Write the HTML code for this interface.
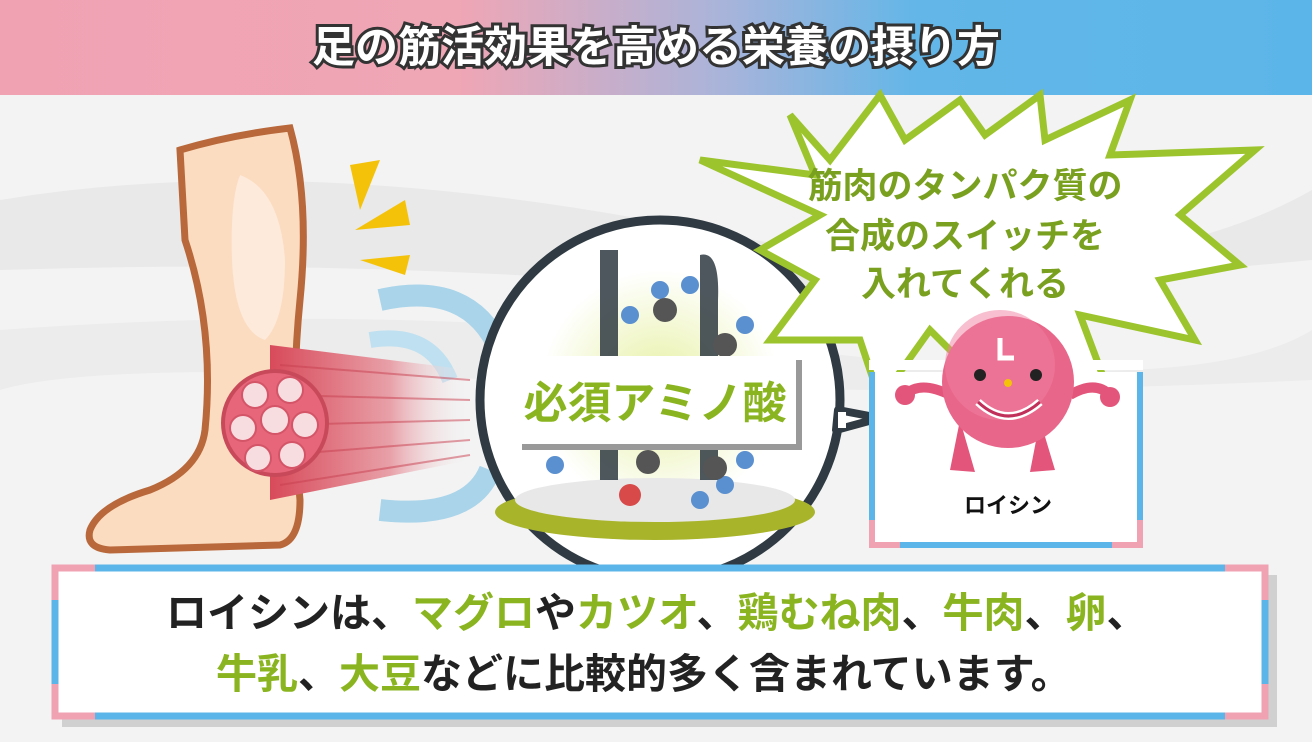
<!DOCTYPE html>
<html><head><meta charset="utf-8"><style>
html,body{margin:0;padding:0;width:1312px;height:742px;overflow:hidden;background:#f4f4f4}
svg text{font-family:"Liberation Sans","Noto Sans CJK JP",sans-serif;font-weight:bold}
</style></head><body>
<svg width="1312" height="742" viewBox="0 0 1312 742" xmlns="http://www.w3.org/2000/svg">
<defs>
<linearGradient id="hd" x1="0" x2="1"><stop offset="0" stop-color="#f0a2b3"/><stop offset="0.35" stop-color="#efa6b5"/><stop offset="0.55" stop-color="#a9b4da"/><stop offset="0.7" stop-color="#62b6e8"/><stop offset="1" stop-color="#5cb5e8"/></linearGradient>
<linearGradient id="mus" x1="0" x2="1"><stop offset="0" stop-color="#d84a5a"/><stop offset="0.6" stop-color="#e8a0a8"/><stop offset="1" stop-color="#f4f4f4" stop-opacity="0"/></linearGradient>
<radialGradient id="glow"><stop offset="0" stop-color="#e6f0a0"/><stop offset="1" stop-color="#ffffff"/></radialGradient>
</defs>
<rect width="1312" height="742" fill="#f3f3f3"/>
<path d="M0 200 Q300 150 700 230 T1312 190 L1312 260 Q900 300 600 280 T0 270Z" fill="#e9e9e9"/>
<path d="M0 330 Q400 300 800 350 T1312 330 L1312 380 Q900 400 500 380 T0 390Z" fill="#ececec"/>
<rect width="1312" height="95" fill="url(#hd)"/>
<text x="656" y="62" text-anchor="middle" font-size="43" fill="#fff" stroke="#333" stroke-width="6" paint-order="stroke">足の筋活効果を高める栄養の摂り方</text>

<!-- leg -->
<path d="M180 150 Q230 135 290 128 Q310 200 300 300 Q290 400 300 500 Q300 540 280 545 L110 550 Q85 548 90 530 Q100 505 150 490 Q200 470 205 430 Q215 330 185 240 Z" fill="#fbdcc0" stroke="#b8683a" stroke-width="7"/>
<path d="M240 175 Q280 190 285 260 Q285 320 265 340 Q235 330 232 260 Q230 200 240 175Z" fill="#fdeadb"/>
<path d="M350 165 L380 160 L360 210Z M355 230 L405 200 L410 225Z M360 260 L410 255 L405 275Z" fill="#f5c20a"/>
<!-- waves -->
<path d="M380 300 Q470 280 500 350" stroke="#a9d4ea" stroke-width="22" fill="none"/>
<path d="M380 510 Q470 520 490 470" stroke="#a9d4ea" stroke-width="22" fill="none"/>
<path d="M370 340 Q430 330 450 380" stroke="#bfe0f0" stroke-width="16" fill="none"/>
<!-- muscle -->
<path d="M270 345 L470 370 L470 460 L270 500Z" fill="url(#mus)"/>
<g stroke="#c84050" stroke-width="2" opacity="0.5"><path d="M280 365 L470 380 M280 395 L470 400 M280 425 L470 420 M280 455 L470 440 M280 485 L470 455"/></g>
<circle cx="275" cy="423" r="52" fill="#e8667a" stroke="#c84a5a" stroke-width="4"/>
<g fill="#f8dde0" stroke="#d45468" stroke-width="2">
<circle cx="255" cy="395" r="13"/><circle cx="290" cy="390" r="13"/><circle cx="243" cy="428" r="13"/><circle cx="275" cy="420" r="14"/><circle cx="305" cy="425" r="13"/><circle cx="258" cy="458" r="13"/><circle cx="292" cy="455" r="13"/>
</g>
<!-- big circle -->
<circle cx="660" cy="400" r="180" fill="#fff"/>
<circle cx="660" cy="390" r="120" fill="url(#glow)"/>
<path d="M838 410 L880 418 L836 430Z" fill="#fff" stroke="#2f3a42" stroke-width="8" stroke-linejoin="round"/>
<circle cx="660" cy="400" r="180" fill="none" stroke="#2f3a42" stroke-width="9"/>
<rect x="838" y="412" width="8" height="16" fill="#fff"/>
<ellipse cx="655" cy="512" rx="160" ry="28" fill="#a8b42a"/>
<ellipse cx="655" cy="500" rx="140" ry="22" fill="#e8e8e8"/>
<rect x="600" y="250" width="18" height="230" fill="#2f3a42" opacity="0.85"/>
<path d="M700 255 Q720 250 718 300 L718 480 L700 480Z" fill="#2f3a42" opacity="0.85"/>
<g fill="#5a8fd0"><circle cx="630" cy="315" r="9"/><circle cx="660" cy="290" r="9"/><circle cx="690" cy="285" r="9"/><circle cx="745" cy="325" r="9"/><circle cx="555" cy="465" r="9"/><circle cx="745" cy="460" r="9"/><circle cx="725" cy="485" r="9"/><circle cx="700" cy="500" r="9"/></g>
<g fill="#555"><circle cx="665" cy="310" r="12"/><circle cx="725" cy="345" r="12"/><circle cx="648" cy="462" r="12"/><circle cx="715" cy="468" r="12"/></g>
<circle cx="630" cy="495" r="11" fill="#d84a4a"/>
<rect x="522" y="360" width="280" height="90" fill="#999"/>
<rect x="518" y="356" width="278" height="88" fill="#fff"/>
<text x="655" y="418" text-anchor="middle" font-size="44" fill="#8ab520">必須アミノ酸</text>

<!-- starburst -->
<path d="M790 115 L830 160 L880 95 L905 140 L960 100 L985 135 L1040 95 L1045 140 L1130 100 L1110 155 L1255 150 L1180 215 L1240 265 L1160 280 L1195 340 L1080 315 L1110 395 L1000 340 L985 385 L930 330 L880 400 L860 340 L770 340 L815 280 L760 250 L820 215 L700 160 L815 175Z" fill="#fff" stroke="#9cc42c" stroke-width="7" stroke-linejoin="miter"/>
<g font-size="35" fill="#7aa020" text-anchor="middle">
<text x="965" y="198">筋肉のタンパク質の</text>
<text x="965" y="248">合成のスイッチを</text>
<text x="965" y="296">入れてくれる</text>
</g>
<!-- leucine box -->
<path d="M872 372 L872 545 L1140 545 L1140 372" fill="#fff" stroke="#5cb5e8" stroke-width="6"/>
<path d="M872 520 L872 545 L900 545 M1140 520 L1140 545 L1112 545" fill="none" stroke="#f0a2b3" stroke-width="6"/>
<rect x="869" y="360" width="274" height="10" fill="#fff"/>
<path d="M960 420 L950 470 L975 472 Z M1040 420 L1055 470 L1030 472Z" fill="#e3557a"/>
<path d="M950 395 Q920 380 905 395" stroke="#e3557a" stroke-width="10" fill="none"/>
<path d="M1070 395 Q1095 380 1110 395" stroke="#e3557a" stroke-width="10" fill="none"/>
<circle cx="905" cy="395" r="10" fill="#e3557a"/><circle cx="1110" cy="397" r="10" fill="#e3557a"/>
<circle cx="1008" cy="382" r="66" fill="#e8668a"/>
<circle cx="1000" cy="365" r="55" fill="#f07fa0" opacity="0.5"/>
<path d="M1000 338 L1000 358 L1014 358" stroke="#fff" stroke-width="5" fill="none"/>
<circle cx="980" cy="375" r="6" fill="#222"/><circle cx="1036" cy="375" r="6" fill="#222"/>
<circle cx="1008" cy="383" r="4" fill="#f5c20a"/>
<path d="M978 402 Q1008 430 1040 402" stroke="#fff" stroke-width="8" fill="none"/>
<path d="M978 402 Q1008 430 1040 402" stroke="#c0305a" stroke-width="3" fill="none"/>
<text x="1008" y="513" text-anchor="middle" font-size="22" fill="#111">ロイシン</text>

<!-- bottom box -->
<rect x="62" y="575" width="1215" height="152" fill="#d0d0d0"/>
<rect x="55" y="568" width="1210" height="148" fill="#fff" stroke="#5cb5e8" stroke-width="7"/>
<path d="M55 600 L55 568 L95 568 M1225 568 L1265 568 L1265 600 M55 684 L55 716 L95 716 M1225 716 L1265 716 L1265 684" fill="none" stroke="#f0a2b3" stroke-width="7"/>
<g font-size="41" fill="#222">
<text x="166" y="627">ロイシンは、<tspan fill="#8ab520">マグロ</tspan>や<tspan fill="#8ab520">カツオ</tspan>、<tspan fill="#8ab520">鶏むね肉</tspan>、<tspan fill="#8ab520">牛肉</tspan>、<tspan fill="#8ab520">卵</tspan>、</text>
<text x="216" y="688"><tspan fill="#8ab520">牛乳</tspan>、<tspan fill="#8ab520">大豆</tspan>などに比較的多く含まれています。</text>
</g>
</svg>
</body></html>
